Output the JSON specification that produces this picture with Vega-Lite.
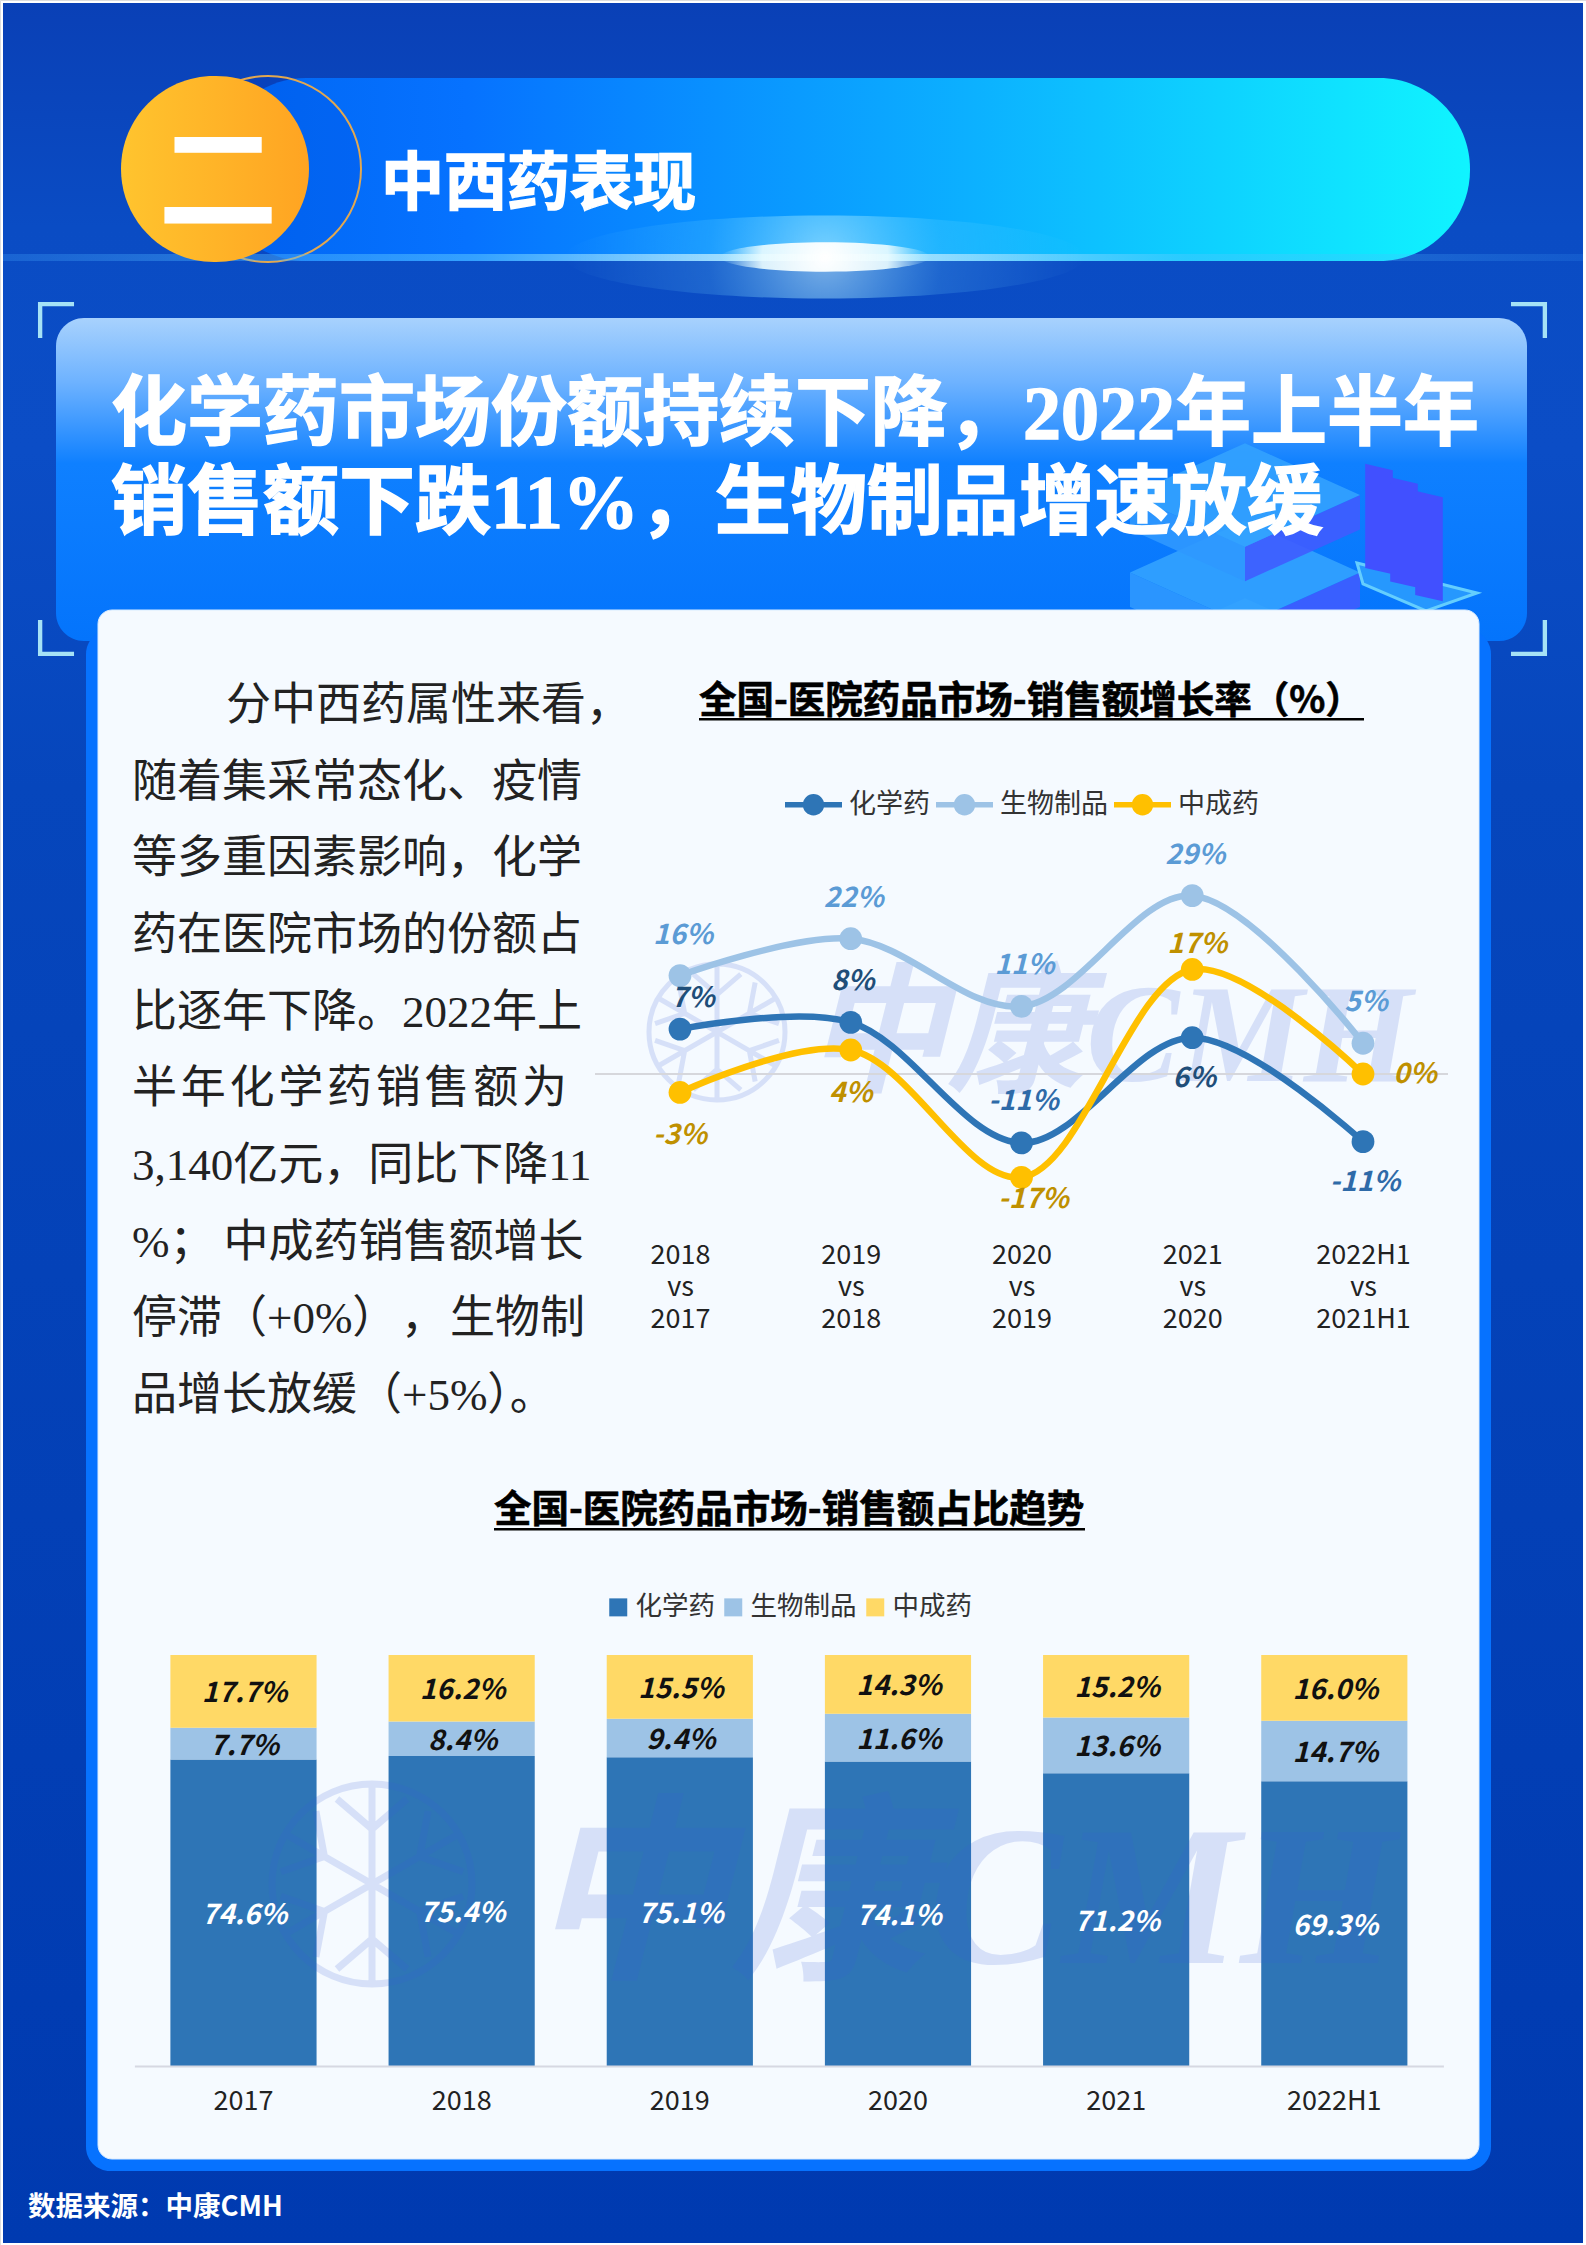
{
  "$schema": "https://vega.github.io/schema/vega-lite/v6.json",
  "autosize": {"type": "fit", "contains": "padding"},
  "width": 1586,
  "height": 2245,
  "padding": 0,
  "background": "#ffffff",
  "datasets": {
    "growth": [
      {"period": "2018 vs 2017", "series": "化学药", "value": 7.3, "label": "7%"},
      {"period": "2019 vs 2018", "series": "化学药", "value": 8.4, "label": "8%"},
      {"period": "2020 vs 2019", "series": "化学药", "value": -11.2, "label": "-11%"},
      {"period": "2021 vs 2020", "series": "化学药", "value": 5.9, "label": "6%"},
      {"period": "2022H1 vs 2021H1", "series": "化学药", "value": -11, "label": "-11%"},
      {"period": "2018 vs 2017", "series": "生物制品", "value": 16, "label": "16%"},
      {"period": "2019 vs 2018", "series": "生物制品", "value": 22, "label": "22%"},
      {"period": "2020 vs 2019", "series": "生物制品", "value": 11, "label": "11%"},
      {"period": "2021 vs 2020", "series": "生物制品", "value": 29, "label": "29%"},
      {"period": "2022H1 vs 2021H1", "series": "生物制品", "value": 5, "label": "5%"},
      {"period": "2018 vs 2017", "series": "中成药", "value": -3, "label": "-3%"},
      {"period": "2019 vs 2018", "series": "中成药", "value": 3.9, "label": "4%"},
      {"period": "2020 vs 2019", "series": "中成药", "value": -16.8, "label": "-17%"},
      {"period": "2021 vs 2020", "series": "中成药", "value": 17, "label": "17%"},
      {"period": "2022H1 vs 2021H1", "series": "中成药", "value": 0, "label": "0%"}
    ],
    "share": [
      {"year": "2017", "series": "化学药", "rank": 1, "value": 74.6, "label": "74.6%"},
      {"year": "2017", "series": "生物制品", "rank": 2, "value": 7.7, "label": "7.7%"},
      {"year": "2017", "series": "中成药", "rank": 3, "value": 17.7, "label": "17.7%"},
      {"year": "2018", "series": "化学药", "rank": 1, "value": 75.4, "label": "75.4%"},
      {"year": "2018", "series": "生物制品", "rank": 2, "value": 8.4, "label": "8.4%"},
      {"year": "2018", "series": "中成药", "rank": 3, "value": 16.2, "label": "16.2%"},
      {"year": "2019", "series": "化学药", "rank": 1, "value": 75.1, "label": "75.1%"},
      {"year": "2019", "series": "生物制品", "rank": 2, "value": 9.4, "label": "9.4%"},
      {"year": "2019", "series": "中成药", "rank": 3, "value": 15.5, "label": "15.5%"},
      {"year": "2020", "series": "化学药", "rank": 1, "value": 74.1, "label": "74.1%"},
      {"year": "2020", "series": "生物制品", "rank": 2, "value": 11.6, "label": "11.6%"},
      {"year": "2020", "series": "中成药", "rank": 3, "value": 14.3, "label": "14.3%"},
      {"year": "2021", "series": "化学药", "rank": 1, "value": 71.2, "label": "71.2%"},
      {"year": "2021", "series": "生物制品", "rank": 2, "value": 13.6, "label": "13.6%"},
      {"year": "2021", "series": "中成药", "rank": 3, "value": 15.2, "label": "15.2%"},
      {"year": "2022H1", "series": "化学药", "rank": 1, "value": 69.3, "label": "69.3%"},
      {"year": "2022H1", "series": "生物制品", "rank": 2, "value": 14.7, "label": "14.7%"},
      {"year": "2022H1", "series": "中成药", "rank": 3, "value": 16, "label": "16.0%"}
    ],
    "paragraph": [
      {"block": "indented", "line": 1, "text": "分中西药属性来看，"},
      {"block": "body", "line": 2, "text": "随着集采常态化、疫情"},
      {"block": "body", "line": 3, "text": "等多重因素影响，化学"},
      {"block": "body", "line": 4, "text": "药在医院市场的份额占"},
      {"block": "body", "line": 5, "text": "比逐年下降。2022年上"},
      {"block": "body", "line": 6, "text": "半\u200a年\u200a化\u200a学\u200a药\u200a销\u200a售\u200a额\u200a为"},
      {"block": "body", "line": 7, "text": "3,140亿元，同比下降11"},
      {"block": "body", "line": 8, "text": "%；\u2009中成药销售额增长"},
      {"block": "body", "line": 9, "text": "停滞（+0%）\u200a，\u200a生物制"},
      {"block": "body", "line": 10, "text": "品增长放缓（+5%）。"}
    ]
  },
  "resolve": {
    "scale": {"x": "independent", "y": "independent", "color": "independent", "shape": "independent"},
    "axis": {"x": "independent", "y": "independent"},
    "legend": {"color": "independent"}
  },
  "layer": [
    {
      "data": {"values": [{"part": "page"}]},
      "mark": {"type": "rect", "fill": {"gradient": "linear", "x1": 0, "y1": 0, "x2": 0, "y2": 1, "stops": [{"offset": 0, "color": "#0a40b6"}, {"offset": 0.1, "color": "#0a4cc4"}, {"offset": 0.2, "color": "#0b4dc6"}, {"offset": 0.35, "color": "#0646bc"}, {"offset": 1, "color": "#003ab0"}]}},
      "encoding": {
        "x": {"field": "part", "type": "nominal", "axis": null, "scale": {"type": "band", "domain": ["page"], "range": [3, 1583], "paddingInner": 0, "paddingOuter": 0}},
        "y": {"field": "part", "type": "nominal", "axis": null, "scale": {"type": "band", "domain": ["page"], "range": [3, 2243], "paddingInner": 0, "paddingOuter": 0}}
      }
    },
    {
      "data": {"values": [{"part": "banner"}]},
      "mark": {"type": "rect", "cornerRadius": 91, "fill": {"gradient": "linear", "x1": 0, "y1": 0, "x2": 1, "y2": 0, "stops": [{"offset": 0, "color": "#0066f4"}, {"offset": 0.2, "color": "#0672ff"}, {"offset": 0.6, "color": "#0cb0ff"}, {"offset": 1, "color": "#10f4ff"}]}},
      "encoding": {
        "x": {"field": "part", "type": "nominal", "axis": null, "scale": {"type": "band", "domain": ["banner"], "range": [215, 1470], "paddingInner": 0, "paddingOuter": 0}},
        "y": {"field": "part", "type": "nominal", "axis": null, "scale": {"type": "band", "domain": ["banner"], "range": [78, 261], "paddingInner": 0, "paddingOuter": 0}}
      }
    },
    {
      "data": {"values": [{"part": "ring"}]},
      "mark": {"type": "rect", "fill": "rgba(0,50,200,0.12)", "stroke": "#e2a850", "strokeWidth": 2, "cornerRadius": 93},
      "encoding": {
        "x": {"field": "part", "type": "nominal", "axis": null, "scale": {"type": "band", "domain": ["ring"], "range": [175, 361], "paddingInner": 0, "paddingOuter": 0}},
        "y": {"field": "part", "type": "nominal", "axis": null, "scale": {"type": "band", "domain": ["ring"], "range": [76, 262], "paddingInner": 0, "paddingOuter": 0}}
      }
    },
    {
      "data": {"values": [{"part": "streak"}]},
      "mark": {"type": "rect", "fill": {"gradient": "linear", "x1": 0, "y1": 0, "x2": 1, "y2": 0, "stops": [{"offset": 0, "color": "rgba(70,170,255,0.25)"}, {"offset": 0.3, "color": "rgba(90,200,255,0.55)"}, {"offset": 0.52, "color": "rgba(255,255,255,0.9)"}, {"offset": 0.75, "color": "rgba(90,200,255,0.35)"}, {"offset": 1, "color": "rgba(70,170,255,0.15)"}]}},
      "encoding": {
        "x": {"field": "part", "type": "nominal", "axis": null, "scale": {"type": "band", "domain": ["streak"], "range": [3, 1583], "paddingInner": 0, "paddingOuter": 0}},
        "y": {"field": "part", "type": "nominal", "axis": null, "scale": {"type": "band", "domain": ["streak"], "range": [254, 261], "paddingInner": 0, "paddingOuter": 0}}
      }
    },
    {
      "data": {"values": [{"part": "glow"}]},
      "mark": {"type": "point", "filled": true, "opacity": 1, "size": 270000, "shape": "M-1,0A1,.16 0 1,1 1,0A1,.16 0 1,1 -1,0Z", "fill": {"gradient": "radial", "x1": 0.5, "y1": 0.5, "r1": 0, "x2": 0.5, "y2": 0.5, "r2": 0.5, "stops": [{"offset": 0, "color": "rgba(200,245,255,0.6)"}, {"offset": 0.45, "color": "rgba(120,220,255,0.18)"}, {"offset": 1, "color": "rgba(120,220,255,0)"}]}},
      "encoding": {
        "x": {"field": "part", "type": "nominal", "axis": null, "scale": {"type": "point", "domain": ["glow"], "range": [825, 825], "padding": 0}},
        "y": {"field": "part", "type": "nominal", "axis": null, "scale": {"type": "point", "domain": ["glow"], "range": [257, 257], "padding": 0}}
      }
    },
    {
      "data": {"values": [{"part": "core"}]},
      "mark": {"type": "point", "filled": true, "opacity": 1, "size": 44000, "shape": "M-1,0A1,.14 0 1,1 1,0A1,.14 0 1,1 -1,0Z", "fill": {"gradient": "radial", "x1": 0.5, "y1": 0.5, "r1": 0, "x2": 0.5, "y2": 0.5, "r2": 0.5, "stops": [{"offset": 0, "color": "rgba(255,255,255,1)"}, {"offset": 0.6, "color": "rgba(235,252,255,0.9)"}, {"offset": 1, "color": "rgba(200,245,255,0)"}]}},
      "encoding": {
        "x": {"field": "part", "type": "nominal", "axis": null, "scale": {"type": "point", "domain": ["core"], "range": [825, 825], "padding": 0}},
        "y": {"field": "part", "type": "nominal", "axis": null, "scale": {"type": "point", "domain": ["core"], "range": [257, 257], "padding": 0}}
      }
    },
    {
      "data": {"values": [{"part": "badge"}]},
      "mark": {"type": "rect", "cornerRadius": 94, "fill": {"gradient": "linear", "x1": 0, "y1": 0, "x2": 1, "y2": 0, "stops": [{"offset": 0, "color": "#ffc42e"}, {"offset": 1, "color": "#ffa422"}]}},
      "encoding": {
        "x": {"field": "part", "type": "nominal", "axis": null, "scale": {"type": "band", "domain": ["badge"], "range": [121, 309], "paddingInner": 0, "paddingOuter": 0}},
        "y": {"field": "part", "type": "nominal", "axis": null, "scale": {"type": "band", "domain": ["badge"], "range": [76, 262], "paddingInner": 0, "paddingOuter": 0}}
      }
    },
    {
      "data": {"values": [{"part": "numeral", "text": "二"}]},
      "mark": {"type": "text", "font": "Noto Sans CJK SC", "fontWeight": "bold", "fontSize": 120, "fill": "#ffffff", "baseline": "middle"},
      "encoding": {
        "text": {"field": "text"},
        "x": {"field": "part", "type": "nominal", "axis": null, "scale": {"type": "band", "domain": ["numeral"], "range": [214, 222], "paddingInner": 0, "paddingOuter": 0}},
        "y": {"field": "part", "type": "nominal", "axis": null, "scale": {"type": "band", "domain": ["numeral"], "range": [180, 194], "paddingInner": 0, "paddingOuter": 0}}
      }
    },
    {
      "data": {"values": [{"part": "section", "text": "中西药表现"}]},
      "mark": {"type": "text", "font": "Noto Sans CJK SC", "fontWeight": "bold", "fontSize": 63, "fill": "#ffffff", "stroke": "#ffffff", "strokeWidth": 1.5, "baseline": "middle", "align": "left"},
      "encoding": {
        "text": {"field": "text"},
        "x": {"field": "part", "type": "nominal", "axis": null, "scale": {"type": "band", "domain": ["section"], "range": [380, 382], "paddingInner": 0, "paddingOuter": 0}},
        "y": {"field": "part", "type": "nominal", "axis": null, "scale": {"type": "band", "domain": ["section"], "range": [184, 186], "paddingInner": 0, "paddingOuter": 0}}
      }
    },
    {
      "data": {"values": [{"side": "l", "level": "t", "corner": "tl"}, {"side": "r", "level": "t", "corner": "tr"}, {"side": "l", "level": "b", "corner": "bl"}, {"side": "r", "level": "b", "corner": "br"}]},
      "mark": {"type": "point", "filled": true, "fill": "#a6e2f6", "opacity": 1, "size": 1300},
      "encoding": {
        "x": {"field": "side", "type": "nominal", "axis": null, "scale": {"type": "point", "domain": ["l", "r"], "range": [56, 1529], "padding": 0}},
        "y": {"field": "level", "type": "nominal", "axis": null, "scale": {"type": "point", "domain": ["t", "b"], "range": [320, 638], "padding": 0}},
        "shape": {"field": "corner", "type": "nominal", "legend": null, "scale": {"domain": ["tl", "tr", "bl", "br"], "range": ["M-1,-1H1V-.76H-.76V1H-1Z", "M1,-1H-1V-.76H.76V1H1Z", "M-1,1H1V.76H-.76V-1H-1Z", "M1,1H-1V.76H.76V-1H1Z"]}}
      }
    },
    {
      "data": {"values": [{"part": "header"}]},
      "mark": {"type": "rect", "cornerRadius": 28, "fill": {"gradient": "linear", "x1": 0, "y1": 0, "x2": 0, "y2": 1, "stops": [{"offset": 0, "color": "#a8d2fd"}, {"offset": 0.2, "color": "#6db2ff"}, {"offset": 0.45, "color": "#0f80ff"}, {"offset": 1, "color": "#0474fc"}]}},
      "encoding": {
        "x": {"field": "part", "type": "nominal", "axis": null, "scale": {"type": "band", "domain": ["header"], "range": [56, 1527], "paddingInner": 0, "paddingOuter": 0}},
        "y": {"field": "part", "type": "nominal", "axis": null, "scale": {"type": "band", "domain": ["header"], "range": [318, 641], "paddingInner": 0, "paddingOuter": 0}}
      }
    },
    {
      "data": {"values": [
        {"slab": "base", "face": "right"}, {"slab": "base", "face": "left"}, {"slab": "base", "face": "top"},
        {"slab": "lower", "face": "right"}, {"slab": "lower", "face": "left"}, {"slab": "lower", "face": "top"},
        {"slab": "upper", "face": "right"}, {"slab": "upper", "face": "left"}, {"slab": "upper", "face": "top"}
      ]},
      "mark": {"type": "point", "filled": true, "opacity": 0.9, "size": 52900},
      "encoding": {
        "x": {"field": "face", "type": "nominal", "axis": null, "scale": {"type": "point", "domain": ["right", "left", "top"], "range": [1245, 1245], "padding": 0}},
        "y": {"field": "slab", "type": "nominal", "axis": null, "scale": {"type": "point", "domain": ["upper", "lower", "base"], "range": [495, 650], "padding": 0}},
        "shape": {"field": "face", "type": "nominal", "legend": null, "scale": {"domain": ["right", "left", "top"], "range": ["M0,.45L1,0V.3L0,.75Z", "M0,.45L-1,0V.3L0,.75Z", "M-1,0L0,-.45L1,0L0,.45Z"]}},
        "color": {"field": "face", "type": "nominal", "legend": null, "scale": {"domain": ["right", "left", "top"], "range": ["#3f5cff", "#2f98ff", "#33a2ff"]}}
      }
    },
    {
      "data": {"values": [{"part": "plate"}]},
      "mark": {"type": "point", "filled": true, "fill": "#2a9cff", "stroke": "#6fd8ff", "strokeWidth": 3, "opacity": 0.9, "size": 14400, "shape": "M-1,-.45L1,.05L.15,.35L-.9,-.1Z"},
      "encoding": {
        "x": {"field": "part", "type": "nominal", "axis": null, "scale": {"type": "point", "domain": ["plate"], "range": [1417, 1417], "padding": 0}},
        "y": {"field": "part", "type": "nominal", "axis": null, "scale": {"type": "point", "domain": ["plate"], "range": [590, 590], "padding": 0}}
      }
    },
    {
      "data": {"values": [{"tower": "a"}, {"tower": "b"}, {"tower": "c"}]},
      "mark": {"type": "point", "filled": true, "fill": "#4150ff", "opacity": 1, "size": 13225, "shape": "M-.24,-.96L.24,-.85V.96L-.24,.85Z"},
      "encoding": {
        "x": {"field": "tower", "type": "nominal", "axis": null, "scale": {"type": "point", "domain": ["a", "b", "c"], "range": [1379, 1429], "padding": 0}},
        "y": {"field": "tower", "type": "nominal", "axis": null, "scale": {"type": "point", "domain": ["a", "b", "c"], "range": [519, 546], "padding": 0}}
      }
    },
    {
      "data": {"values": [{"part": "headline", "line": 1, "text": "化学药市场份额持续下降，2022年上半年"}, {"part": "headline", "line": 2, "text": "销售额下跌11%，生物制品增速放缓"}]},
      "mark": {"type": "text", "font": "Liberation Serif, Noto Sans CJK SC", "fontWeight": "bold", "fontSize": 76, "fill": "#ffffff", "stroke": "#ffffff", "strokeWidth": 1.5, "baseline": "middle", "align": "left"},
      "encoding": {
        "text": {"field": "text"},
        "x": {"field": "part", "type": "nominal", "axis": null, "scale": {"type": "band", "domain": ["headline"], "range": [110, 112], "paddingInner": 0, "paddingOuter": 0}},
        "y": {"field": "line", "type": "ordinal", "axis": null, "scale": {"type": "point", "domain": [1, 2], "range": [416, 505], "padding": 0}}
      }
    },
    {
      "data": {"values": [{"part": "frame"}]},
      "mark": {"type": "rect", "cornerRadius": 24, "fill": "#0672ff"},
      "encoding": {
        "x": {"field": "part", "type": "nominal", "axis": null, "scale": {"type": "band", "domain": ["frame"], "range": [86, 1491], "paddingInner": 0, "paddingOuter": 0}},
        "y": {"field": "part", "type": "nominal", "axis": null, "scale": {"type": "band", "domain": ["frame"], "range": [630, 2171], "paddingInner": 0, "paddingOuter": 0}}
      }
    },
    {
      "data": {"values": [{"part": "card"}]},
      "mark": {"type": "rect", "cornerRadius": 14, "fill": "#f5faff", "stroke": "#d8ebff", "strokeWidth": 1},
      "encoding": {
        "x": {"field": "part", "type": "nominal", "axis": null, "scale": {"type": "band", "domain": ["card"], "range": [98, 1479], "paddingInner": 0, "paddingOuter": 0}},
        "y": {"field": "part", "type": "nominal", "axis": null, "scale": {"type": "band", "domain": ["card"], "range": [610, 2159], "paddingInner": 0, "paddingOuter": 0}}
      }
    },
    {
      "data": {"name": "paragraph"},
      "mark": {"type": "text", "font": "Liberation Serif, Noto Sans CJK SC", "fontSize": 45, "fill": "#222222", "baseline": "middle", "align": "left"},
      "encoding": {
        "text": {"field": "text"},
        "x": {"field": "block", "type": "nominal", "axis": null, "scale": {"type": "point", "domain": ["body", "indented"], "range": [132, 226], "padding": 0}},
        "y": {"field": "line", "type": "ordinal", "axis": null, "scale": {"type": "point", "domain": [1, 2, 3, 4, 5, 6, 7, 8, 9, 10], "range": [706, 1396], "padding": 0}}
      }
    },
    {
      "data": {"values": [{"part": "t", "text": "全国-医院药品市场-销售额增长率（%）"}]},
      "mark": {"type": "text", "font": "Noto Sans CJK SC", "fontWeight": "bold", "fontSize": 37.5, "fill": "#000000", "stroke": "#000000", "strokeWidth": 0.6, "baseline": "middle", "align": "left"},
      "encoding": {
        "text": {"field": "text"},
        "x": {"field": "part", "type": "nominal", "axis": null, "scale": {"type": "band", "domain": ["t"], "range": [698, 700], "paddingInner": 0, "paddingOuter": 0}},
        "y": {"field": "part", "type": "nominal", "axis": null, "scale": {"type": "band", "domain": ["t"], "range": [701, 703], "paddingInner": 0, "paddingOuter": 0}}
      }
    },
    {
      "data": {"values": [{"part": "u"}]},
      "mark": {"type": "rect", "fill": "#000000"},
      "encoding": {
        "x": {"field": "part", "type": "nominal", "axis": null, "scale": {"type": "band", "domain": ["u"], "range": [699, 1364], "paddingInner": 0, "paddingOuter": 0}},
        "y": {"field": "part", "type": "nominal", "axis": null, "scale": {"type": "band", "domain": ["u"], "range": [718, 720.5], "paddingInner": 0, "paddingOuter": 0}}
      }
    },
    {
      "data": {"values": [{"part": "t", "text": "全国-医院药品市场-销售额占比趋势"}]},
      "mark": {"type": "text", "font": "Noto Sans CJK SC", "fontWeight": "bold", "fontSize": 37.5, "fill": "#000000", "stroke": "#000000", "strokeWidth": 0.6, "baseline": "middle", "align": "left"},
      "encoding": {
        "text": {"field": "text"},
        "x": {"field": "part", "type": "nominal", "axis": null, "scale": {"type": "band", "domain": ["t"], "range": [493, 495], "paddingInner": 0, "paddingOuter": 0}},
        "y": {"field": "part", "type": "nominal", "axis": null, "scale": {"type": "band", "domain": ["t"], "range": [1510, 1512], "paddingInner": 0, "paddingOuter": 0}}
      }
    },
    {
      "data": {"values": [{"part": "u"}]},
      "mark": {"type": "rect", "fill": "#000000"},
      "encoding": {
        "x": {"field": "part", "type": "nominal", "axis": null, "scale": {"type": "band", "domain": ["u"], "range": [494, 1085], "paddingInner": 0, "paddingOuter": 0}},
        "y": {"field": "part", "type": "nominal", "axis": null, "scale": {"type": "band", "domain": ["u"], "range": [1528, 1530.5], "paddingInner": 0, "paddingOuter": 0}}
      }
    },
    {
      "data": {"values": [{"part": "logo"}]},
      "mark": {"type": "point", "filled": false, "stroke": "#3a5fd8", "opacity": 0.16, "strokeWidth": 5, "size": 18500, "shape": "M-1,0A1,1 0 1,1 1,0A1,1 0 1,1 -1,0Z M0,-1V1 M-.866,-.5L.866,.5 M-.866,.5L.866,-.5 M0,-.55L.35,-.85M0,-.55L-.35,-.85 M.476,-.275L.911,-.122M.476,-.275L.561,-.728 M.476,.275L.561,.728M.476,.275L.911,.122 M0,.55L.35,.85M0,.55L-.35,.85 M-.476,.275L-.911,.122M-.476,.275L-.561,.728 M-.476,-.275L-.561,-.728M-.476,-.275L-.911,-.122"},
      "encoding": {
        "x": {"field": "part", "type": "nominal", "axis": null, "scale": {"type": "point", "domain": ["logo"], "range": [717, 717], "padding": 0}},
        "y": {"field": "part", "type": "nominal", "axis": null, "scale": {"type": "point", "domain": ["logo"], "range": [1032, 1032], "padding": 0}}
      }
    },
    {
      "data": {"values": [{"part": "mark", "text": "中康CMH"}]},
      "mark": {"type": "text", "font": "Liberation Serif, Noto Sans CJK SC", "fontWeight": "bold", "fontStyle": "italic", "fontSize": 140, "fill": "#3a5fd8", "opacity": 0.16, "baseline": "alphabetic", "align": "left"},
      "encoding": {
        "text": {"field": "text"},
        "x": {"field": "part", "type": "nominal", "axis": null, "scale": {"type": "band", "domain": ["mark"], "range": [805, 807], "paddingInner": 0, "paddingOuter": 0}},
        "y": {"field": "part", "type": "nominal", "axis": null, "scale": {"type": "band", "domain": ["mark"], "range": [1080, 1082], "paddingInner": 0, "paddingOuter": 0}}
      }
    },
    {
      "data": {"values": [{"part": "zero"}]},
      "mark": {"type": "rect", "fill": "#d6d7dc"},
      "encoding": {
        "x": {"field": "part", "type": "nominal", "axis": null, "scale": {"type": "band", "domain": ["zero"], "range": [595, 1448], "paddingInner": 0, "paddingOuter": 0}},
        "y": {"field": "part", "type": "nominal", "axis": null, "scale": {"type": "band", "domain": ["zero"], "range": [1073, 1075], "paddingInner": 0, "paddingOuter": 0}}
      }
    },
    {
      "data": {"name": "growth"},
      "encoding": {
        "x": {
          "field": "period", "type": "nominal",
          "scale": {"type": "point", "domain": ["2018 vs 2017", "2019 vs 2018", "2020 vs 2019", "2021 vs 2020", "2022H1 vs 2021H1"], "range": [680, 1363], "padding": 0},
          "axis": {"orient": "bottom", "title": null, "zindex": 1, "domain": false, "ticks": false, "labelAngle": 0, "labelOverlap": false, "labelExpr": "split(datum.label, ' ')", "labelFont": "Noto Sans CJK SC", "labelFontSize": 27, "labelColor": "#222222", "labelLineHeight": 32, "labelBaseline": "top", "offset": -1003, "labelPadding": 0}
        },
        "y": {"field": "value", "type": "quantitative", "axis": null, "scale": {"domain": [-20, 35], "range": [1197, 858.75], "nice": false, "zero": false}}
      },
      "layer": [
        {
          "mark": {"type": "line", "interpolate": "catmull-rom", "strokeWidth": 6.5},
          "encoding": {
            "color": {
              "field": "series", "type": "nominal",
              "scale": {"domain": ["化学药", "生物制品", "中成药"], "range": ["#2e75b6", "#9dc3e6", "#ffc000"]},
              "legend": {"title": null, "orient": "none", "legendX": 782, "legendY": 773, "direction": "horizontal", "columns": 3, "symbolType": "M-1,0H1M-.28,0A.28,.28 0 1,1 .28,0A.28,.28 0 1,1 -.28,0ZM-.1,0A.1,.1 0 1,1 .1,0A.1,.1 0 1,1 -.1,0Z", "symbolSize": 3249, "symbolStrokeWidth": 5.5, "symbolOpacity": 1, "labelFont": "Noto Sans CJK SC", "labelFontSize": 27, "labelColor": "#333333", "labelOffset": 4, "columnPadding": -5, "padding": 0, "labelLimit": 200}
            }
          }
        },
        {
          "mark": {"type": "point", "filled": true, "size": 520, "opacity": 1},
          "encoding": {
            "color": {
              "field": "series", "type": "nominal",
              "scale": {"domain": ["化学药", "生物制品", "中成药"], "range": ["#2e75b6", "#9dc3e6", "#ffc000"]}
            }
          }
        },
        {
          "transform": [{"filter": "datum.series === '生物制品'"}],
          "mark": {"type": "text", "font": "Noto Sans CJK SC", "fontWeight": "bold", "fontStyle": "italic", "fontSize": 28, "fill": "#5b9bd5", "dx": 3, "dy": -40},
          "encoding": {"text": {"field": "label"}}
        },
        {
          "transform": [{"filter": "datum.series === '化学药' && datum.period === '2018 vs 2017'"}],
          "mark": {"type": "text", "font": "Noto Sans CJK SC", "fontWeight": "bold", "fontStyle": "italic", "fontSize": 28, "fill": "#1f4e79", "dx": 13, "dy": -30},
          "encoding": {"text": {"field": "label"}}
        },
        {
          "transform": [{"filter": "datum.series === '化学药' && datum.period === '2019 vs 2018'"}],
          "mark": {"type": "text", "font": "Noto Sans CJK SC", "fontWeight": "bold", "fontStyle": "italic", "fontSize": 28, "fill": "#1f4e79", "dx": 2, "dy": -40},
          "encoding": {"text": {"field": "label"}}
        },
        {
          "transform": [{"filter": "datum.series === '化学药' && datum.period === '2020 vs 2019'"}],
          "mark": {"type": "text", "font": "Noto Sans CJK SC", "fontWeight": "bold", "fontStyle": "italic", "fontSize": 28, "fill": "#2e6aa8", "dx": 2, "dy": -41},
          "encoding": {"text": {"field": "label"}}
        },
        {
          "transform": [{"filter": "datum.series === '化学药' && datum.period === '2021 vs 2020'"}],
          "mark": {"type": "text", "font": "Noto Sans CJK SC", "fontWeight": "bold", "fontStyle": "italic", "fontSize": 28, "fill": "#1f4e79", "dx": 2, "dy": 41},
          "encoding": {"text": {"field": "label"}}
        },
        {
          "transform": [{"filter": "datum.series === '化学药' && datum.period === '2022H1 vs 2021H1'"}],
          "mark": {"type": "text", "font": "Noto Sans CJK SC", "fontWeight": "bold", "fontStyle": "italic", "fontSize": 28, "fill": "#2e6aa8", "dx": 2, "dy": 41},
          "encoding": {"text": {"field": "label"}}
        },
        {
          "transform": [{"filter": "datum.series === '中成药' && (datum.period === '2018 vs 2017' || datum.period === '2019 vs 2018')"}],
          "mark": {"type": "text", "font": "Noto Sans CJK SC", "fontWeight": "bold", "fontStyle": "italic", "fontSize": 28, "fill": "#bf9000", "dx": 0, "dy": 44},
          "encoding": {"text": {"field": "label"}}
        },
        {
          "transform": [{"filter": "datum.series === '中成药' && datum.period === '2020 vs 2019'"}],
          "mark": {"type": "text", "font": "Noto Sans CJK SC", "fontWeight": "bold", "fontStyle": "italic", "fontSize": 28, "fill": "#bf9000", "dx": 12, "dy": 23},
          "encoding": {"text": {"field": "label"}}
        },
        {
          "transform": [{"filter": "datum.series === '中成药' && datum.period === '2021 vs 2020'"}],
          "mark": {"type": "text", "font": "Noto Sans CJK SC", "fontWeight": "bold", "fontStyle": "italic", "fontSize": 28, "fill": "#bf9000", "dx": 5, "dy": -24},
          "encoding": {"text": {"field": "label"}}
        },
        {
          "transform": [{"filter": "datum.series === '中成药' && datum.period === '2022H1 vs 2021H1'"}],
          "mark": {"type": "text", "font": "Noto Sans CJK SC", "fontWeight": "bold", "fontStyle": "italic", "fontSize": 28, "fill": "#bf9000", "dx": 52, "dy": 1},
          "encoding": {"text": {"field": "label"}}
        }
      ]
    },
    {
      "data": {"name": "share"},
      "mark": {"type": "bar"},
      "encoding": {
        "x": {
          "field": "year", "type": "nominal",
          "scale": {"type": "band", "domain": ["2017", "2018", "2019", "2020", "2021", "2022H1"], "range": [134.4, 1443.4], "paddingInner": 0.33, "paddingOuter": 0.165},
          "axis": {"orient": "bottom", "title": null, "zindex": 1, "domainColor": "#d6d8e2", "domainWidth": 2, "ticks": false, "labelAngle": 0, "labelFont": "Noto Sans CJK SC", "labelFontSize": 27, "labelColor": "#222222", "labelBaseline": "middle", "offset": -179, "labelPadding": 35}
        },
        "y": {"field": "value", "type": "quantitative", "stack": "zero", "axis": null, "scale": {"domain": [0, 100], "range": [2066, 1655], "nice": false}},
        "order": {"field": "rank", "type": "ordinal"},
        "color": {
          "field": "series", "type": "nominal",
          "scale": {"domain": ["化学药", "生物制品", "中成药"], "range": ["#2e75b6", "#9dc3e6", "#ffd966"]},
          "legend": {"title": null, "orient": "none", "legendX": 605, "legendY": 1594, "direction": "horizontal", "columns": 3, "symbolType": "square", "symbolSize": 324, "symbolOpacity": 1, "labelFont": "Noto Sans CJK SC", "labelFontSize": 26.5, "labelColor": "#333333", "labelOffset": 4, "columnPadding": 5, "padding": 0, "labelLimit": 200}
        }
      }
    },
    {
      "data": {"values": [{"part": "logo"}]},
      "mark": {"type": "point", "filled": false, "stroke": "#3a5fd8", "opacity": 0.16, "strokeWidth": 7, "size": 40000, "shape": "M-1,0A1,1 0 1,1 1,0A1,1 0 1,1 -1,0Z M0,-1V1 M-.866,-.5L.866,.5 M-.866,.5L.866,-.5 M0,-.55L.35,-.85M0,-.55L-.35,-.85 M.476,-.275L.911,-.122M.476,-.275L.561,-.728 M.476,.275L.561,.728M.476,.275L.911,.122 M0,.55L.35,.85M0,.55L-.35,.85 M-.476,.275L-.911,.122M-.476,.275L-.561,.728 M-.476,-.275L-.561,-.728M-.476,-.275L-.911,-.122"},
      "encoding": {
        "x": {"field": "part", "type": "nominal", "axis": null, "scale": {"type": "point", "domain": ["logo"], "range": [372, 372], "padding": 0}},
        "y": {"field": "part", "type": "nominal", "axis": null, "scale": {"type": "point", "domain": ["logo"], "range": [1884, 1884], "padding": 0}}
      }
    },
    {
      "data": {"values": [{"part": "mark", "text": "中康CMH"}]},
      "mark": {"type": "text", "font": "Liberation Serif, Noto Sans CJK SC", "fontWeight": "bold", "fontStyle": "italic", "fontSize": 200, "fill": "#3a5fd8", "opacity": 0.16, "baseline": "alphabetic", "align": "left"},
      "encoding": {
        "text": {"field": "text"},
        "x": {"field": "part", "type": "nominal", "axis": null, "scale": {"type": "band", "domain": ["mark"], "range": [528, 530], "paddingInner": 0, "paddingOuter": 0}},
        "y": {"field": "part", "type": "nominal", "axis": null, "scale": {"type": "band", "domain": ["mark"], "range": [1962, 1964], "paddingInner": 0, "paddingOuter": 0}}
      }
    },
    {
      "data": {"name": "share"},
      "mark": {"type": "text", "font": "Noto Sans CJK SC", "fontWeight": "bold", "fontStyle": "italic", "fontSize": 28, "dx": 1, "dy": 3, "baseline": "middle"},
      "encoding": {
        "x": {"field": "year", "type": "nominal", "axis": null, "scale": {"type": "band", "domain": ["2017", "2018", "2019", "2020", "2021", "2022H1"], "range": [134.4, 1443.4], "paddingInner": 0.33, "paddingOuter": 0.165}},
        "y": {"field": "value", "type": "quantitative", "stack": "zero", "bandPosition": 0.5, "axis": null, "scale": {"domain": [0, 100], "range": [2066, 1655], "nice": false}},
        "order": {"field": "rank", "type": "ordinal"},
        "text": {"field": "label"},
        "color": {"condition": {"test": "datum.series === '化学药'", "value": "#ffffff"}, "value": "#111111"}
      }
    },
    {
      "data": {"values": [{"part": "source", "text": "数据来源：中康CMH"}]},
      "mark": {"type": "text", "font": "Noto Sans CJK SC", "fontWeight": "bold", "fontSize": 27.5, "fill": "#ffffff", "baseline": "middle", "align": "left"},
      "encoding": {
        "text": {"field": "text"},
        "x": {"field": "part", "type": "nominal", "axis": null, "scale": {"type": "band", "domain": ["source"], "range": [27, 29], "paddingInner": 0, "paddingOuter": 0}},
        "y": {"field": "part", "type": "nominal", "axis": null, "scale": {"type": "band", "domain": ["source"], "range": [2207, 2209], "paddingInner": 0, "paddingOuter": 0}}
      }
    }
  ]
}
